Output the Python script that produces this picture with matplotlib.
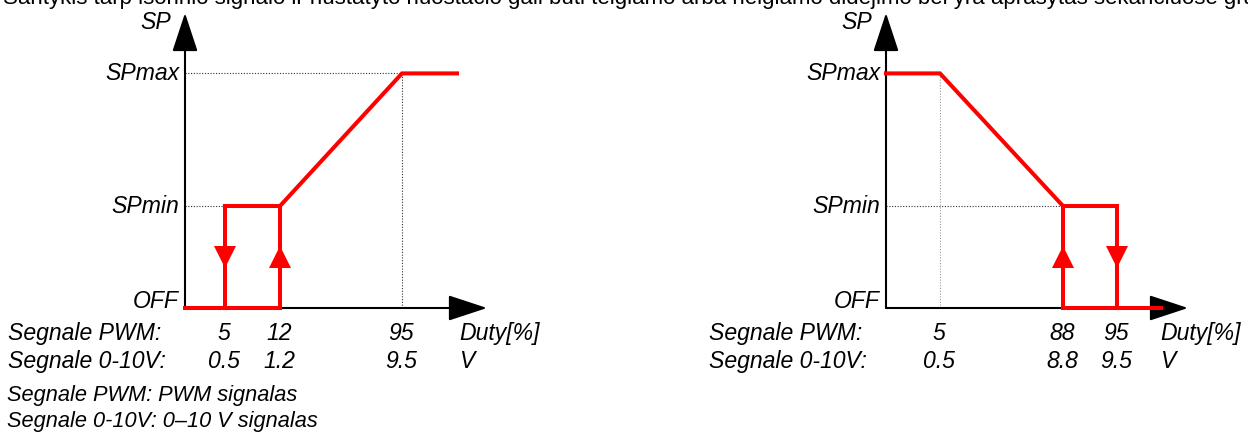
#!/usr/bin/env python3

import matplotlib.pyplot as plt
import numpy as np

plt.rcParams['font.family'] = ['Liberation Sans', 'DejaVu Sans']

HEADER = ('Santykis tarp išorinio signalo ir nustatyto nuostačio gali būti '
          'teigiamo arba neigiamo didėjimo bei yra aprašytas sekančiuose grafikuose')
NOTES = ['Segnale PWM: PWM signalas', 'Segnale 0-10V: 0–10 V signalas']
ROW_NAMES = ['Segnale PWM:', 'Segnale 0-10V:']
UNITS = ['Duty[%]', 'V']

# setpoint levels (schematic, OFF lies on the x axis)
LEVELS = ['OFF', 'SPmin', 'SPmax']
LEVEL_Y = {'OFF': 0.0, 'SPmin': 1.0, 'SPmax': 2.3}

# left chart: setpoint rises with the signal
LEFT_PWM = [5, 12, 95]
LEFT_VOLT = ['0.5', '1.2', '9.5']
LEFT_MAIN_DUTY = [0, 12, 12, 95, 100]
LEFT_MAIN_LEVEL = ['OFF', 'OFF', 'SPmin', 'SPmax', 'SPmax']
LEFT_LOOP_DUTY = [5, 5, 12]
LEFT_LOOP_LEVEL = ['OFF', 'SPmin', 'SPmin']
LEFT_DOWN = [5]
LEFT_UP = [12]

# right chart: setpoint falls with the signal
RIGHT_PWM = [5, 88, 95]
RIGHT_VOLT = ['0.5', '8.8', '9.5']
RIGHT_MAIN_DUTY = [0, 5, 88, 95, 95]
RIGHT_MAIN_LEVEL = ['SPmax', 'SPmax', 'SPmin', 'SPmin', 'OFF']
RIGHT_LOOP_DUTY = [88, 88, 100]
RIGHT_LOOP_LEVEL = ['SPmin', 'OFF', 'OFF']
RIGHT_DOWN = [95]
RIGHT_UP = [88]

# layout: the diagram is not to scale, duty values are placed on anchors (px)
W, H = 1248, 437
AX_LEN, AX_TOP, ORIGIN_Y = 302, 13, 308
LEVEL_PX = 102  # pixels per level unit
RED = '#ff0000'
FS = 16.6
FS_NOTE = 15.7


def make_scale(duty, px):
    duty = np.asarray(duty, float)
    px = np.asarray(px, float)

    def fwd(x):
        return np.interp(x, duty, px)

    def inv(p):
        return np.interp(p, px, duty)
    return fwd, inv


def panel(x0, anchors, pwm, volt, main_d, main_l, loop_d, loop_l,
          down, up, dotted):
    ax = fig.add_axes([x0 / W, (H - ORIGIN_Y) / H,
                       AX_LEN / W, (ORIGIN_Y - AX_TOP) / H])
    fwd, inv = make_scale(*anchors)
    ax.set_xscale('function', functions=(fwd, inv))
    ax.set_xlim(0, inv(AX_LEN))
    ax.set_ylim(0, (ORIGIN_Y - AX_TOP) / LEVEL_PX)
    ax.axis('off')
    ax.patch.set_alpha(0)

    # axes with arrow heads
    style = '-|>,head_length=24.3,head_width=8'
    for tip in [(1, 0), (0, 1)]:
        ax.annotate('', xy=tip, xytext=(0, 0), xycoords='axes fraction',
                    arrowprops=dict(arrowstyle=style, mutation_scale=1,
                                    lw=1.5, color='black',
                                    shrinkA=0, shrinkB=0), zorder=2)

    # dotted guides
    for xs, ls, c in dotted:
        ax.plot(xs, [LEVEL_Y[l] for l in ls], ls=(0, (1, 1.5)), lw=0.8,
                color=c, clip_on=False, zorder=1)

    # red characteristic
    ax.plot(main_d, [LEVEL_Y[l] for l in main_l], color=RED, lw=2.9,
            solid_joinstyle='miter', clip_on=False, zorder=3)
    ax.plot(loop_d, [LEVEL_Y[l] for l in loop_l], color=RED, lw=2.9,
            solid_joinstyle='miter', clip_on=False, zorder=3)
    mid = LEVEL_Y['SPmin'] / 2
    ax.plot(down, [mid] * len(down), 'v', color=RED, ms=15.5, mew=0, zorder=4)
    ax.plot(up, [mid] * len(up), '^', color=RED, ms=15.5, mew=0, zorder=4)

    # level labels
    for name in LEVELS:
        dy = 0 if name == 'OFF' else -7
        ax.annotate(name, xy=(0, LEVEL_Y[name]), xytext=(-6, dy),
                    textcoords='offset pixels', ha='right', va='baseline',
                    fontsize=FS, style='italic')
    ax.annotate('SP', xy=(0, 1), xycoords='axes fraction',
                xytext=(-14, -16), textcoords='offset pixels',
                ha='right', va='baseline', fontsize=FS, style='italic')

    # signal rows under the x axis
    for row, (name, vals, unit) in enumerate(zip(ROW_NAMES, [pwm, volt], UNITS)):
        dy = -32 - 28 * row
        ax.annotate(name, xy=(0, 0), xytext=(-177, dy),
                    textcoords='offset pixels', ha='left', va='baseline',
                    fontsize=FS, style='italic')
        for d, s in zip(pwm, vals):
            ax.annotate(str(s), xy=(d, 0), xytext=(-1, dy),
                        textcoords='offset pixels', ha='center',
                        va='baseline', fontsize=FS, style='italic')
        ax.annotate(unit, xy=(0, 0), xytext=(274, dy),
                    textcoords='offset pixels', ha='left', va='baseline',
                    fontsize=FS, style='italic')
    return ax


fig = plt.figure(figsize=(W / 100, H / 100), dpi=100)

# the caption line is cut by the top and right edge, as in the source
fig.text(3 / W, 1 - 4 / H, HEADER, fontsize=16, ha='left', va='baseline')

panel(185, ([0, 5, 12, 95, 100, 200], [0, 40, 95, 217, 272, 1372]),
      LEFT_PWM, LEFT_VOLT, LEFT_MAIN_DUTY, LEFT_MAIN_LEVEL,
      LEFT_LOOP_DUTY, LEFT_LOOP_LEVEL, LEFT_DOWN, LEFT_UP,
      [([0, 95], ['SPmax', 'SPmax'], '#333333'),
       ([0, 5], ['SPmin', 'SPmin'], '#333333'),
       ([95, 95], ['OFF', 'SPmax'], '#333333')])

panel(886, ([0, 5, 88, 95, 100, 200], [0, 54, 177, 231, 275, 1135]),
      RIGHT_PWM, RIGHT_VOLT, RIGHT_MAIN_DUTY, RIGHT_MAIN_LEVEL,
      RIGHT_LOOP_DUTY, RIGHT_LOOP_LEVEL, RIGHT_DOWN, RIGHT_UP,
      [([0, 88], ['SPmin', 'SPmin'], '#333333'),
       ([5, 5], ['OFF', 'SPmax'], '#999999')])

for i, note in enumerate(NOTES):
    fig.text(7 / W, 1 - (401 + 26 * i) / H, note, fontsize=FS_NOTE,
             style='italic', ha='left', va='baseline')

fig.savefig('out.png', dpi=100)
